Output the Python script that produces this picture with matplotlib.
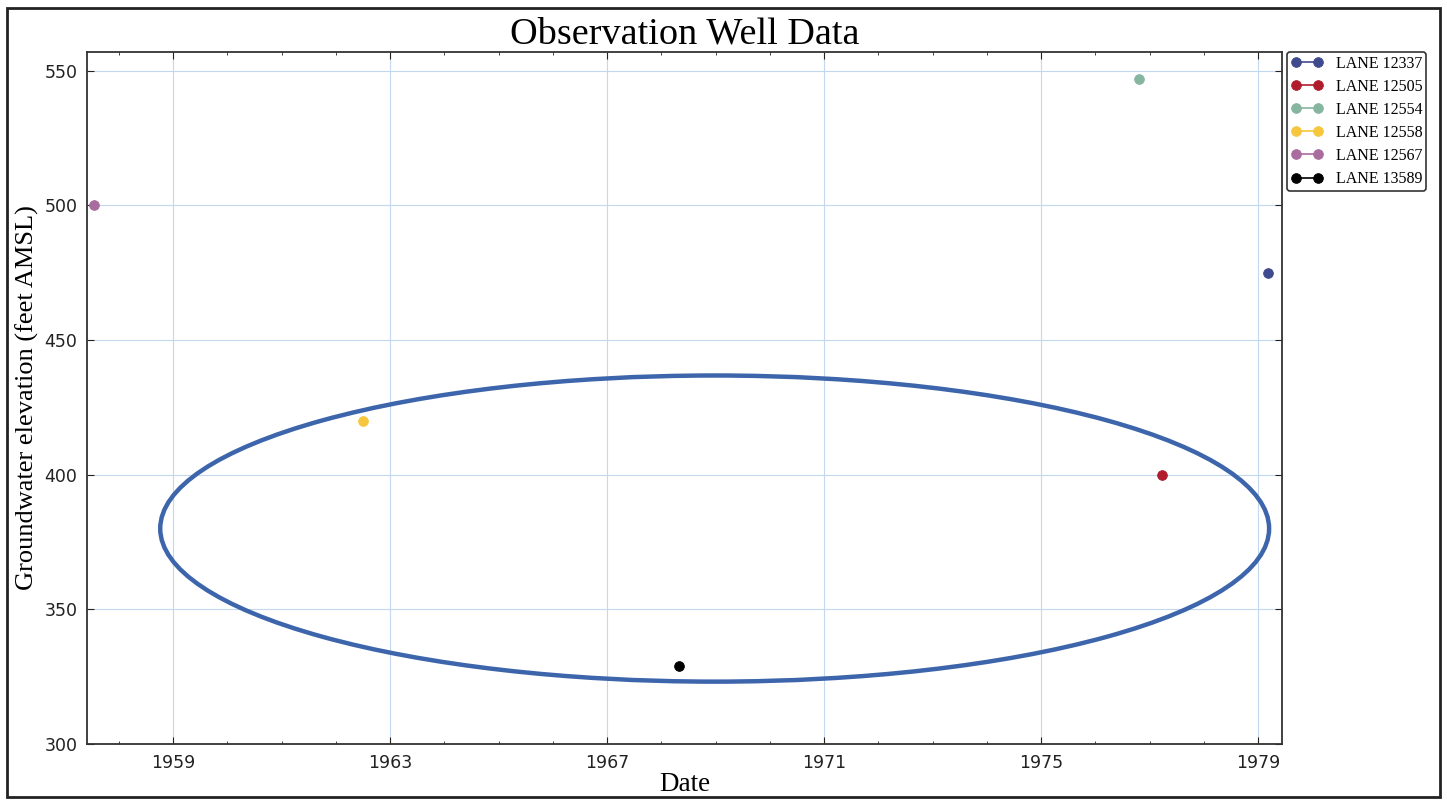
import datetime
import matplotlib
matplotlib.use("Agg")
import matplotlib.pyplot as plt
import matplotlib.dates as mdates
from matplotlib.patches import Ellipse, Rectangle


# well names, sampling dates (decimal years) and elevations
wells = ["LANE 12337", "LANE 12505", "LANE 12554", "LANE 12558", "LANE 12567", "LANE 13589"]
years = [1979.18, 1977.23, 1976.80, 1962.49, 1957.54, 1968.32]
elevations = [475, 400, 547, 420, 500, 329]
colors = ["#3f4a8e", "#b01c2c", "#86b5a0", "#f6c63c", "#aa6c9f", "#000000"]

tick_years = [1959, 1963, 1967, 1971, 1975, 1979]


def year_to_date(y):
    yr = int(y)
    start = datetime.datetime(yr, 1, 1)
    end = datetime.datetime(yr + 1, 1, 1)
    return start + (end - start) * (y - yr)


fig = plt.figure(figsize=(14.47, 8.01), dpi=100)
ax = fig.add_axes([0.0601, 0.0712, 0.8259, 0.8639])

for name, y, v, c in zip(wells, years, elevations, colors):
    d = year_to_date(y)
    ax.plot([d], [v], "-o", color=c, markersize=7, markeredgecolor=c,
            markeredgewidth=0.6, linewidth=1.2, label=name)

# hand drawn ellipse around the low wells
centre = mdates.date2num(year_to_date(1968.98))
width = mdates.date2num(year_to_date(1979.2)) - mdates.date2num(year_to_date(1958.76))
ax.add_patch(Ellipse((centre, 380), width, 113.7, fill=False,
                     edgecolor="#3d65ab", linewidth=3.2, zorder=3))

ax.set_xlim(year_to_date(1957.41), year_to_date(1979.44))
ax.set_ylim(300, 557)
ax.set_yticks([300, 350, 400, 450, 500, 550])
ax.xaxis.set_major_locator(plt.FixedLocator(
    [mdates.date2num(datetime.datetime(y, 1, 1)) for y in tick_years]))
ax.xaxis.set_major_formatter(mdates.DateFormatter("%Y"))
ax.xaxis.set_minor_locator(mdates.YearLocator(1))

ax.tick_params(which="both", direction="in", top=True, right=True,
               labelsize=12.5, colors="#222222")
ax.tick_params(which="major", length=5, pad=7)
ax.tick_params(which="minor", length=2.5)
ax.grid(True, which="major", color="#c3d7ee", linestyle="-", linewidth=0.8)
for s in ax.spines.values():
    s.set_linewidth(1.3)
    s.set_color("#333333")

ax.set_title("Observation Well Data", family="Liberation Serif", fontsize=27.5, pad=3)
ax.set_xlabel("Date", family="Liberation Serif", fontsize=19.5, labelpad=0)
ax.set_ylabel("Groundwater elevation (feet AMSL)", family="Liberation Serif",
              fontsize=19, labelpad=4)

leg = ax.legend(loc="upper left", bbox_to_anchor=(1.004, 1.0), numpoints=2,
                prop={"family": "Liberation Serif", "size": 11.5},
                handlelength=2.0, handletextpad=0.8, borderaxespad=0,
                borderpad=0.25, labelspacing=0.44, fancybox=True, framealpha=1)
leg.get_frame().set_edgecolor("#333333")
leg.get_frame().set_linewidth(1.2)

# scanned page border
fig.patches.append(Rectangle((0.005, 0.005), 0.99, 0.985, transform=fig.transFigure,
                             fill=False, edgecolor="#222222", linewidth=2))

plt.savefig("out.png", dpi=100)
plt.close()
